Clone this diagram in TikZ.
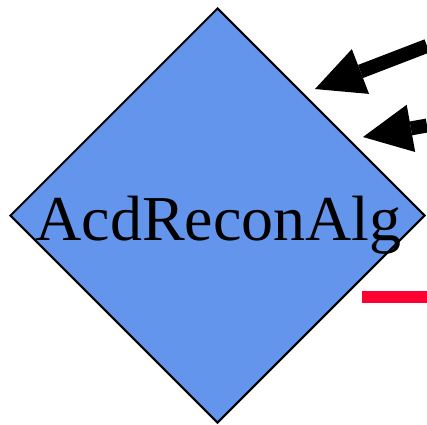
\documentclass[tikz,border=0pt]{standalone}
\usepackage{fontspec}
\setmainfont{Liberation Serif}
\usetikzlibrary{shapes.geometric,arrows.meta}
\definecolor{algblue}{RGB}{100,149,237}
\definecolor{edgered}{RGB}{255,0,51}
\tikzset{
  algbox/.style={diamond, aspect=1, draw=black, line width=2pt, fill=algblue,
    inner sep=0pt, minimum width=415pt, minimum height=415pt},
  algtext/.style={inner sep=0pt, anchor=base, font=\fontsize{64}{64}\selectfont},
  flow/.style={line width=14pt, -{Triangle[length=48.7pt, width=48pt, line width=0pt]}},
  redflow/.style={draw=edgered, line width=12pt}
}
\begin{document}
\begin{tikzpicture}[x=1pt, y=-1pt]
  \useasboundingbox (0,0) rectangle (427,424);
  % algorithm node
  \node[algbox] (alg) at (217.5,215.5) {};
  \node[algtext] (algname) at (218.5,240) {AcdReconAlg};
  % incoming connections
  \coordinate (in1) at (427,45.9);
  \coordinate (tip1) at (315,89);
  \coordinate (in2) at (427,125.5);
  \coordinate (tip2) at (363,137);
  \draw[flow] (in1) -- (tip1);
  \draw[flow] (in2) -- (tip2);
  % outgoing connection
  \coordinate (out1) at (362,297);
  \coordinate (out2) at (427,297);
  \draw[redflow] (out1) -- (out2);
\end{tikzpicture}
\end{document}
